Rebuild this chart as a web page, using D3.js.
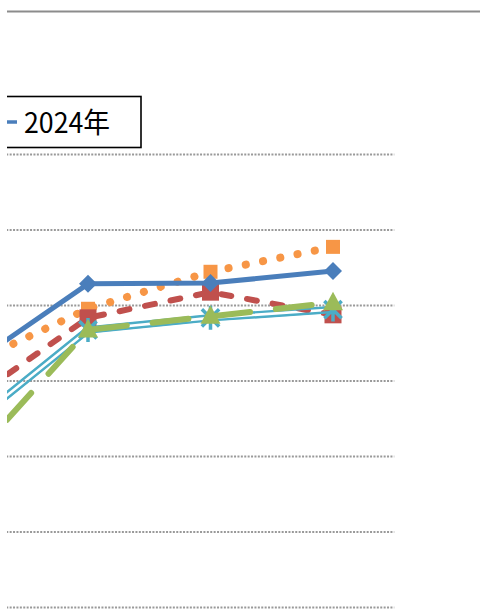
<!DOCTYPE html>
<html>
<head>
<meta charset="utf-8">
<script src="https://cdn.jsdelivr.net/npm/d3@7"></script>
<style>
  body { margin: 0; background: #fff; }
  svg { display: block; }
</style>
</head>
<body>
<div id="chart"></div>
<script>
const categories = ["区分1", "区分2", "区分3", "区分4"];
const yTicks = [0, 10, 20, 30, 40, 50, 60];
const legendLabel = "2024年";

const blueValues = [31.6, 42.8, 42.9, 44.5];
const orangeValues = [31.9, 39.5, 44.4, 47.7];
const redValues = [26.9, 38.3, 41.7, 38.7];
const tealValues = [23.6, 36.7, 38.3, 39.4];
const greenValues = [18.7, 36.7, 38.5, 40.3];

const width = 480, height = 613;
const plot = { left: -95.75, right: 394.25, top: 154, bottom: 607 };

const svg = d3.select("#chart")
    .append("svg")
    .attr("width", width)
    .attr("height", height)
    .attr("viewBox", `0 0 ${width} ${height}`);

const defs = svg.append("defs");
defs.append("clipPath")
    .attr("id", "crop")
    .append("rect")
    .attr("x", 7).attr("y", 0)
    .attr("width", width - 7).attr("height", height);

const g = svg.append("g").attr("clip-path", "url(#crop)");

const x = d3.scalePoint()
    .domain(categories)
    .range([plot.left, plot.right])
    .padding(0.5);

const y = d3.scaleLinear()
    .domain([0, 60])
    .range([plot.bottom, plot.top]);

// chart border (top edge only visible)
g.append("line")
    .attr("x1", 7).attr("x2", width)
    .attr("y1", 11.5).attr("y2", 11.5)
    .attr("stroke", "#8c8c8c")
    .attr("stroke-width", 2);

// gridlines, tick labels sit outside the cropped picture
const yAxis = d3.axisLeft(y)
    .tickValues(yTicks)
    .tickSize(-(plot.right - plot.left))
    .tickFormat("");

const gridGroup = g.append("g")
    .attr("transform", `translate(${plot.left}, 0)`)
    .call(yAxis);
gridGroup.select(".domain").remove();
gridGroup.selectAll(".tick line")
    .attr("stroke", "#999")
    .attr("stroke-width", 2)
    .attr("stroke-dasharray", "2,1.4");

const line = d3.line()
    .x((d, i) => x(categories[i]))
    .y(d => y(d));

const series = [
    { values: orangeValues, color: "#F79646", width: 8, dash: "0.1,17.5", cap: "round", marker: "square", size: 14 },
    { values: redValues, color: "#C0504D", width: 6, dash: "10,16", cap: "round", marker: "square", size: 17 },
    { values: tealValues, color: "#4BACC6", width: 7.5, dash: null, cap: "butt", marker: "star", size: 24, double: true },
    { values: greenValues, color: "#9BBB59", width: 6, dash: "36,26", cap: "round", marker: "triangle", size: 20 },
    { values: blueValues, color: "#4A7EBB", width: 5, dash: null, cap: "butt", marker: "diamond", size: 18 }
];

function drawMarker(sel, s, cx, cy) {
    const r = s.size / 2;
    if (s.marker === "square") {
        sel.append("rect")
            .attr("x", cx - r).attr("y", cy - r)
            .attr("width", s.size).attr("height", s.size)
            .attr("fill", s.color);
    } else if (s.marker === "diamond") {
        sel.append("path")
            .attr("d", `M${cx},${cy - r}L${cx + r},${cy}L${cx},${cy + r}L${cx - r},${cy}Z`)
            .attr("fill", s.color);
    } else if (s.marker === "triangle") {
        sel.append("path")
            .attr("d", `M${cx},${cy - r * 1.1}L${cx + r},${cy + r * 0.75}L${cx - r},${cy + r * 0.75}Z`)
            .attr("fill", s.color);
    } else if (s.marker === "star") {
        const k = r * 0.72;
        sel.append("path")
            .attr("d", `M${cx - k},${cy - k}L${cx + k},${cy + k}M${cx + k},${cy - k}L${cx - k},${cy + k}M${cx},${cy - r}L${cx},${cy + r}`)
            .attr("stroke", s.color)
            .attr("stroke-width", 3.5)
            .attr("fill", "none");
    }
}

series.forEach((s, si) => {
    const sg = g.append("g").attr("class", "series");
    if (s.double) {
        const mask = defs.append("mask")
            .attr("id", "double" + si)
            .attr("maskUnits", "userSpaceOnUse")
            .attr("x", -200).attr("y", 0)
            .attr("width", 800).attr("height", height);
        mask.append("path")
            .attr("d", line(s.values))
            .attr("fill", "none")
            .attr("stroke", "white")
            .attr("stroke-width", s.width + 1);
        mask.append("path")
            .attr("d", line(s.values))
            .attr("fill", "none")
            .attr("stroke", "black")
            .attr("stroke-width", 2.6);
        sg.append("path")
            .attr("d", line(s.values))
            .attr("fill", "none")
            .attr("stroke", s.color)
            .attr("stroke-width", s.width)
            .attr("stroke-linejoin", "round")
            .attr("mask", `url(#double${si})`);
    } else {
        sg.append("path")
            .attr("d", line(s.values))
            .attr("fill", "none")
            .attr("stroke", s.color)
            .attr("stroke-width", s.width)
            .attr("stroke-linecap", s.cap)
            .attr("stroke-linejoin", "round")
            .attr("stroke-dasharray", s.dash);
    }
    s.values.forEach((v, i) => drawMarker(sg, s, x(categories[i]), y(v)));
});

// legend (only the last entry falls inside the picture)
const legend = g.append("g").attr("class", "legend");
legend.append("rect")
    .attr("x", -30).attr("y", 96.5)
    .attr("width", 171).attr("height", 51)
    .attr("fill", "#fff")
    .attr("stroke", "#000")
    .attr("stroke-width", 1.6);
legend.append("line")
    .attr("x1", -25).attr("x2", 17)
    .attr("y1", 122).attr("y2", 122)
    .attr("stroke", "#4A7EBB")
    .attr("stroke-width", 3.5);
legend.append("path")
    .attr("d", "M-4,116L2,122L-4,128L-10,122Z")
    .attr("fill", "#4A7EBB");
legend.append("text")
    .attr("x", 24)
    .attr("y", 133)
    .attr("font-family", "'Noto Sans CJK JP', 'Noto Sans', sans-serif")
    .attr("font-size", "28px")
    .attr("textLength", 86)
    .attr("lengthAdjust", "spacingAndGlyphs")
    .attr("fill", "#000")
    .text(legendLabel);
</script>
</body>
</html>
